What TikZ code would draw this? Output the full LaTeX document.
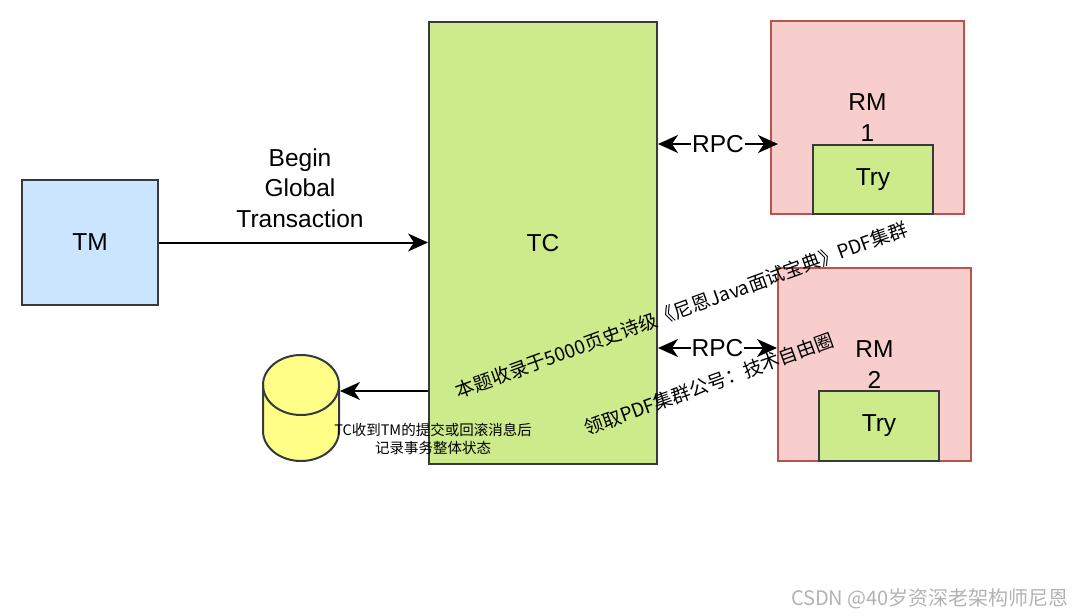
\documentclass[tikz,border=0pt]{standalone}
\usepackage{fontspec}
\setmainfont{Liberation Sans}
\newfontfamily\cjk{Noto Sans CJK SC}
\usetikzlibrary{arrows.meta}
\definecolor{tmblue}{HTML}{CCE5FF}
\definecolor{tcgreen}{HTML}{CDEB8B}
\definecolor{rmred}{HTML}{F8CECC}
\definecolor{rmline}{HTML}{B85450}
\definecolor{boxline}{HTML}{36393D}
\definecolor{dbyellow}{HTML}{FFFF88}
\tikzset{
  bigtxt/.style={font=\fontsize{24.5}{30.5}\selectfont, align=center},
  box/.style={draw=boxline, line width=2pt, inner sep=0pt, bigtxt},
  rmbox/.style={draw=rmline, fill=rmred, line width=2pt, inner sep=0pt, bigtxt},
  link/.style={line width=2pt, -{Stealth[length=20pt,width=18pt,inset=6pt]}},
  duplex/.style={line width=2pt, {Stealth[length=20pt,width=18pt,inset=6pt]}-{Stealth[length=20pt,width=18pt,inset=6pt]}},
  watermark/.style={font=\cjk\fontsize{19}{23}\selectfont, rotate=20, inner sep=0pt}
}
\begin{document}
\begin{tikzpicture}[x=1pt,y=-1pt]
\useasboundingbox (0,0) rectangle (1080,616);
\node[box, fill=tmblue, minimum width=136, minimum height=125] (tm) at (90,242.5) {TM};
\node[box, fill=tcgreen, minimum width=228, minimum height=442] (tc) at (543,243) {TC};
\node[rmbox, minimum width=193, minimum height=193] (rmone) at (867.5,117.5) {RM\\1};
\node[box, fill=tcgreen, minimum width=120, minimum height=69] (tryone) at (873,179.5) {Try};
\node[rmbox, minimum width=193, minimum height=193] (rmtwo) at (874.5,364.5) {RM\\2};
\node[box, fill=tcgreen, minimum width=120, minimum height=70] (trytwo) at (879,426) {Try};
\node[minimum width=76, minimum height=108, inner sep=0pt] (db) at (301,407) {};
\draw[boxline, fill=dbyellow, line width=2pt] (263,385) -- (263,431) arc[start angle=180, end angle=0, x radius=38, y radius=30] -- (339,385) arc[start angle=0, end angle=-180, x radius=38, y radius=30] -- cycle;
\draw[boxline, line width=2pt] (263,385) arc[start angle=180, end angle=0, x radius=38, y radius=30];
\coordinate (dbport) at (340,391);
\coordinate (rpcone) at (778,144);
\coordinate (rpctwo) at (777,348);
\draw[link] (tm.east) -- (tm.east -| tc.west);
\node[bigtxt] (beginlbl) at (300,188) {Begin\\Global\\Transaction};
\draw[link] (tc.west |- dbport) -- (dbport);
\node[font=\cjk\fontsize{14.5}{18.5}\selectfont, align=center] (dbnote) at (433,439) {TC收到TM的提交或回滚消息后\\记录事务整体状态};
\draw[duplex] (tc.east |- rpcone) -- node[fill=white, inner sep=1pt, bigtxt] (rpconelbl) {RPC} (rpcone);
\draw[duplex] (tc.east |- rpctwo) -- node[fill=white, inner sep=1pt, bigtxt] (rpctwolbl) {RPC} (rpctwo);
\node[watermark] (markone) at (681.5,310) {本题收录于5000页史诗级《尼恩Java面试宝典》PDF集群};
\node[watermark] (marktwo) at (709,384) {领取PDF集群公号：技术自由圈};
\node[font=\cjk\fontsize{20}{24}\selectfont, text=black!30] (csdn) at (930,599) {CSDN @40岁资深老架构师尼恩};
\end{tikzpicture}
\end{document}
